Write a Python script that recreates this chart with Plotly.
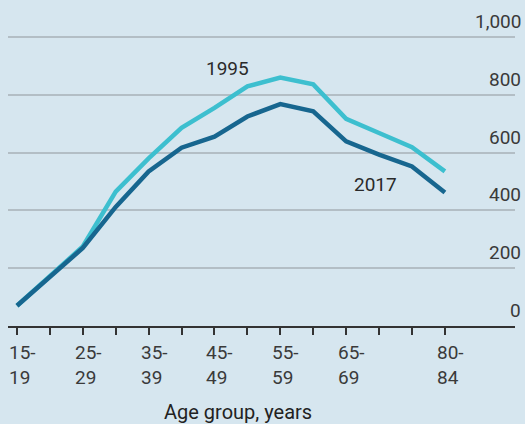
import plotly.graph_objects as go

age_groups = ["15-19", "20-24", "25-29", "30-34", "35-39", "40-44", "45-49",
              "50-54", "55-59", "60-64", "65-69", "70-74", "75-79", "80-84"]
v1995 = [70, 170, 275, 465, 580, 686, 755, 829, 860, 836, 717, 668, 619, 535]
v2017 = [70, 170, 270, 412, 535, 617, 655, 725, 768, 743, 639, 593, 552, 462]
y_ticks = [0, 200, 400, 600, 800, 1000]
y_tick_labels = ["0", "200", "400", "600", "800", "1,000"]
x_label_groups = ["15-19", "25-29", "35-39", "45-49", "55-59", "65-69", "80-84"]

BG = "#d6e6ef"
C1995 = "#3dbfcf"
C2017 = "#17668f"
FONT = "Roboto"

xi = list(range(len(age_groups)))

fig = go.Figure()
fig.add_trace(go.Scatter(x=xi, y=v1995, mode="lines",
                         line=dict(color=C1995, width=4.5), name="1995"))
fig.add_trace(go.Scatter(x=xi, y=v2017, mode="lines",
                         line=dict(color=C2017, width=4.5), name="2017"))

ann = []
for v, t in zip(y_ticks, y_tick_labels):
    ann.append(dict(x=1, xref="paper", y=v, yref="y", text=t, showarrow=False,
                    xanchor="right", yanchor="bottom", xshift=8, yshift=2,
                    font=dict(family=FONT, size=19, color="#3a3a3a")))
for g in x_label_groups:
    a, b = g.split("-")
    ann.append(dict(x=age_groups.index(g), xref="x", y=0, yref="y",
                    text=f"{a}-<br>{b}", showarrow=False, align="left",
                    xanchor="left", yanchor="top", xshift=-10, yshift=-13,
                    font=dict(family=FONT, size=19, color="#3a3a3a")))
ann.append(dict(x=6.7, xref="x", y=0, yref="y", text="Age group, years",
                showarrow=False, xanchor="center", yanchor="top", yshift=-72,
                font=dict(family=FONT, size=20, color="#222")))
ann.append(dict(x=6.4, xref="x", y=845, yref="y", text="1995", showarrow=False,
                xanchor="center", yanchor="bottom",
                font=dict(family=FONT, size=19, color="#2a2a2a")))
ann.append(dict(x=10.9, xref="x", y=490, yref="y", text="2017", showarrow=False,
                xanchor="center", yanchor="middle",
                font=dict(family=FONT, size=19, color="#2a2a2a")))

fig.update_layout(
    width=525, height=424,
    paper_bgcolor=BG, plot_bgcolor=BG,
    margin=dict(l=8, r=10, t=35, b=98),
    showlegend=False,
    annotations=ann,
    xaxis=dict(range=[-0.273, 15.13], tickvals=xi, ticktext=[""] * len(xi),
               ticks="outside", ticklen=7, tickwidth=1.5, tickcolor="#333",
               showgrid=False, zeroline=False, showline=True,
               linecolor="#333", linewidth=2),
    yaxis=dict(range=[0, 1007], tickvals=y_ticks, showticklabels=False,
               showgrid=True, gridcolor="#b3bec5", gridwidth=1.5,
               zeroline=False, ticks=""),
)

fig.write_html("out.html", config={"displayModeBar": False},
               post_script="document.body.style.margin='0';"
                           "document.body.style.background='%s';" % BG)
